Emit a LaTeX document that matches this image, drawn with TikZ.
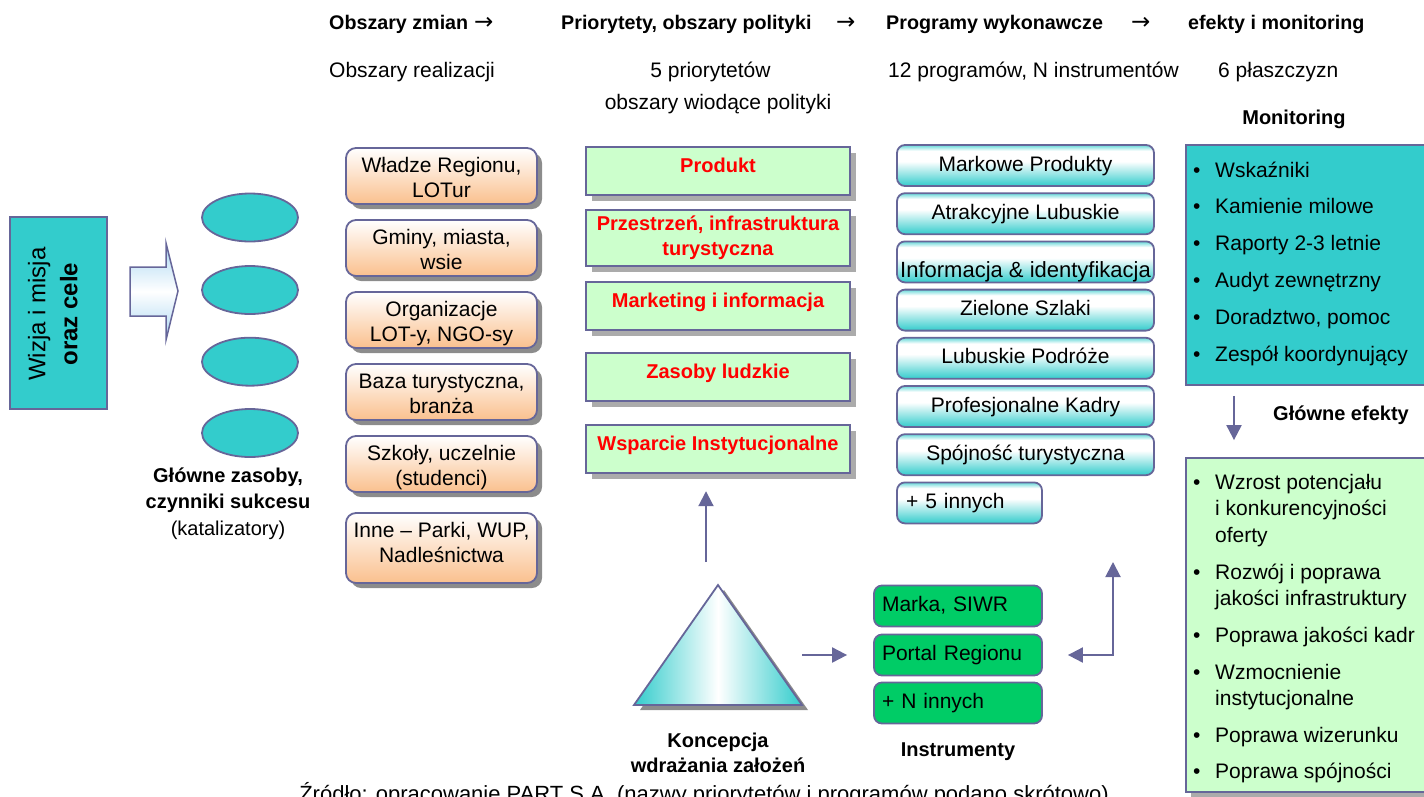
\documentclass[tikz,border=0pt]{standalone}
\usepackage{fontspec}
\setmainfont{Liberation Sans}
\newfontfamily\symfont{DejaVu Sans}
\usetikzlibrary{shapes.geometric,shadows,arrows.meta}

\definecolor{edge}{HTML}{666699}
\definecolor{tealc}{HTML}{33CCCC}
\definecolor{mint}{HTML}{CCFFCC}
\definecolor{peach}{HTML}{FAC08E}
\definecolor{instr}{HTML}{00CC66}
\definecolor{skyb}{HTML}{A9D6F2}
\definecolor{shadowgray}{HTML}{8C8C8C}
\definecolor{hatchgray}{HTML}{ABABAB}
\colorlet{tealsoft}{tealc!75!white}

% programme boxes: teal rim at the top, white band, teal towards the bottom
\pgfdeclareverticalshading{progshade}{100bp}{color(0bp)=(tealc); color(25bp)=(tealc); color(55bp)=(white); color(68bp)=(white); color(75bp)=(tealsoft); color(100bp)=(tealsoft)}

\newcommand\itm[1]{\makebox[22pt][l]{\textbullet}#1}
\newcommand\ind{\hspace*{22pt}}

\tikzset{
  edgeline/.style={draw=edge, line width=1.8pt},
  reg/.style={font=\fontsize{21}{25}\selectfont},
  bld/.style={font=\fontsize{19.7}{25}\selectfont\bfseries},
  txt/.style={inner sep=0pt, align=center, execute at begin node=\strut, execute at end node=\strut},
  hdr/.style={bld, inner sep=0pt, anchor=base west},
  sub/.style={reg, inner sep=0pt, anchor=base west},
  arr/.style={font=\fontsize{23}{25}\selectfont\symfont, inner sep=0pt, anchor=base west},
  obox/.style={edgeline, rounded corners=10pt, top color=white, bottom color=peach, minimum width=191pt, inner sep=0pt,
    drop shadow={shadow xshift=5pt, shadow yshift=-5pt, fill=shadowgray, opacity=1}},
  otxt/.style={reg, txt, anchor=north},
  pbox/.style={draw=edge, line width=2.4pt, fill=mint, minimum width=264pt, minimum height=48pt, inner sep=0pt,
    drop shadow={shadow xshift=6pt, shadow yshift=-6pt, fill=hatchgray, opacity=1}},
  ptxt/.style={font=\fontsize{20}{25}\selectfont\bfseries, text=red, txt, anchor=north},
  prog/.style={edgeline, rounded corners=8pt, shade, shading=progshade, minimum width=257pt, minimum height=41pt,
    inner sep=0pt, reg, text height=15pt, text depth=4pt},
  ibox/.style={edgeline, rounded corners=8pt, fill=instr, minimum height=41pt, text width=152pt, align=left,
    inner xsep=8pt, inner ysep=0pt, reg, text height=15pt, text depth=4pt},
  ell/.style={ellipse, edgeline, fill=tealc, minimum width=96pt, minimum height=48pt, inner sep=0pt},
  listtxt/.style={font=\fontsize{21}{26.5}\selectfont, inner sep=0pt, align=left, anchor=north west,
    execute at begin node=\strut},
  conn/.style={draw=edge, line width=2pt, -{Triangle[length=15pt,width=15pt]}},
  connboth/.style={draw=edge, line width=2pt, {Triangle[length=15pt,width=15pt]}-{Triangle[length=15pt,width=15pt]}},
}

\begin{document}
\begin{tikzpicture}[x=1pt,y=-1pt]
\useasboundingbox (0,0) rectangle (1424,796);

% ---- column headings
\node[hdr] (h1) at (329,29) {Obszary zmian};
\node[arr] (a1) at (474,29) {→};
\node[hdr] (h2) at (561,29) {Priorytety, obszary polityki};
\node[arr] (a2) at (836,29) {→};
\node[hdr] (h3) at (886,29) {Programy wykonawcze};
\node[arr] (a3) at (1131,29) {→};
\node[hdr] (h4) at (1188,29) {efekty i monitoring};

\node[sub] (s1h) at (329,77) {Obszary realizacji};
\node[reg, inner sep=0pt, anchor=base] (s2h) at (710.5,77) {5 priorytetów};
\node[reg, inner sep=0pt, anchor=base] (s2h2) at (718,109) {obszary wiodące polityki};
\node[sub] (s3h) at (888,77) {12 programów, N instrumentów};
\node[sub] (s4h) at (1218,77) {6 płaszczyzn};

% ---- vision and mission
\node[edgeline, fill=tealc, minimum width=96.7pt, minimum height=192.6pt, inner sep=0pt] (wiz) at (58.3,313) {};
\node[rotate=90, align=center, inner sep=0pt, font=\fontsize{24}{32}\selectfont,
      execute at begin node=\strut, execute at end node=\strut] (wizt) at (57.6,314)
      {Wizja i misja\\\textbf{oraz cele}};

% ---- block arrow
\path[draw=edge, line width=1.5pt, top color=skyb, bottom color=skyb, middle color=white]
  (130,267) -- (166,267) -- (166,243) -- (178,291) -- (166,340) -- (166,316) -- (130,316) -- cycle;

% ---- catalysts
\node[ell] (e1) at (250,217.5) {};
\node[ell] (e2) at (250,290) {};
\node[ell] (e3) at (250,361.7) {};
\node[ell] (e4) at (250,433) {};
\node[txt, font=\fontsize{20}{26.5}\selectfont, anchor=north] (cat) at (228,467.5)
  {\textbf{Główne zasoby,}\\\textbf{czynniki sukcesu}\\(katalizatory)};

% ---- areas of realisation
\node[obox, minimum height=56pt] (o1) at (441.5,176) {};
\node[obox, minimum height=56pt] (o2) at (441.5,248) {};
\node[obox, minimum height=56pt] (o3) at (441.5,320) {};
\node[obox, minimum height=56pt] (o4) at (441.5,392) {};
\node[obox, minimum height=56pt] (o5) at (441.5,464) {};
\node[obox, minimum height=70pt] (o6) at (441.5,548) {};
\node[otxt] (o1t) at (441.5,157.5) {Władze Regionu,\\LOTur};
\node[otxt] (o2t) at (441.5,229.5) {Gminy, miasta,\\wsie};
\node[otxt] (o3t) at (441.5,301.5) {Organizacje\\LOT-y, NGO-sy};
\node[otxt] (o4t) at (441.5,373.5) {Baza turystyczna,\\branża};
\node[otxt] (o5t) at (441.5,445.5) {Szkoły, uczelnie\\(studenci)};
\node[otxt] (o6t) at (441.5,522.5) {Inne – Parki, WUP,\\Nadleśnictwa};

% ---- priorities
\node[pbox] (p1) at (718,171) {};
\node[pbox, minimum height=56pt] (p2) at (718,238) {};
\node[pbox] (p3) at (718,306) {};
\node[pbox] (p4) at (718,377) {};
\node[pbox] (p5) at (718,449) {};
\node[ptxt] (p1t) at (718,155) {Produkt};
\node[ptxt] (p2t) at (718,215.5) {Przestrzeń, infrastruktura\\turystyczna};
\node[ptxt] (p3t) at (718,290) {Marketing i informacja};
\node[ptxt] (p4t) at (718,361) {Zasoby ludzkie};
\node[ptxt] (p5t) at (718,433) {Wsparcie Instytucjonalne};

% ---- programmes
\node[prog] (g1) at (1025.5,165.5) {Markowe Produkty};
\node[prog] (g2) at (1025.5,213.7) {Atrakcyjne Lubuskie};
\node[prog] (g3) at (1025.5,261.9) {};
\begin{scope}
  \clip ([shift={(1pt,1pt)}]g3.south west) rectangle ([shift={(-1pt,-1pt)}]g3.north east);
  \node[font=\fontsize{22}{26}\selectfont, inner sep=0pt, anchor=base] (g3t) at (1025.5,277) {Informacja \& identyfikacja};
\end{scope}
\node[prog] (g4) at (1025.5,310.1) {Zielone Szlaki};
\node[prog] (g5) at (1025.5,358.3) {Lubuskie Podróże};
\node[prog] (g6) at (1025.5,406.5) {Profesjonalne Kadry};
\node[prog] (g7) at (1025.5,454.7) {Spójność turystyczna};
\node[prog, minimum width=145pt, text width=127pt, align=left, inner xsep=9pt] (g8) at (969.5,502.9) {+ 5 innych};

% ---- implementation concept
\fill[shadowgray] (724,590) -- (808,710) -- (640,710) -- cycle;
\path[draw=edge, line width=1.8pt, left color=tealc, right color=tealc, middle color=white]
  (718,585) coordinate (apex) -- (802,705) coordinate (tribr) -- (634,705) coordinate (tribl) -- cycle;
\node[txt, font=\fontsize{20}{25}\selectfont\bfseries, anchor=north] (kon) at (718,732.5) {Koncepcja\\wdrażania założeń};

% ---- instruments
\node[ibox] (i1) at (958,606) {Marka, SIWR};
\node[ibox] (i2) at (958,655) {Portal Regionu};
\node[ibox] (i3) at (958,703) {+ N innych};
\node[font=\fontsize{20}{25}\selectfont\bfseries, inner sep=0pt, anchor=base] (ins) at (958,756) {Instrumenty};

% ---- monitoring and effects
\node[font=\fontsize{20}{25}\selectfont\bfseries, inner sep=0pt, anchor=base] (monh) at (1294,124) {Monitoring};
\node[edgeline, fill=tealc, minimum width=246pt, minimum height=240pt, inner sep=0pt] (mon) at (1309,265) {};
\node[listtxt] (mont) at (1193,161.5)
  {\itm{Wskaźniki}\\[10.3pt]\itm{Kamienie milowe}\\[10.3pt]\itm{Raporty 2-3 letnie}\\[10.3pt]%
   \itm{Audyt zewnętrzny}\\[10.3pt]\itm{Doradztwo, pomoc}\\[10.3pt]\itm{Zespół koordynujący}};
\node[font=\fontsize{20}{25}\selectfont\bfseries, inner sep=0pt, anchor=base west] (effh) at (1273,420) {Główne efekty};
\node[edgeline, fill=mint, minimum width=246pt, minimum height=334pt, inner sep=0pt,
      drop shadow={shadow xshift=5pt, shadow yshift=-5pt, fill=hatchgray, opacity=1}] (eff) at (1309,625) {};
\node[listtxt] (efft) at (1193,474)
  {\itm{Wzrost potencjału}\\\ind i konkurencyjności\\\ind oferty\\[10.2pt]%
   \itm{Rozwój i poprawa}\\\ind jakości infrastruktury\\[10.2pt]%
   \itm{Poprawa jakości kadr}\\[10.2pt]%
   \itm{Wzmocnienie}\\\ind instytucjonalne\\[10.2pt]%
   \itm{Poprawa wizerunku}\\[10.2pt]%
   \itm{Poprawa spójności}};

% ---- connectors
\coordinate (upfoot) at (706,562);
\coordinate (tailr) at (802,655);
\coordinate (progfoot) at (1113,562);
\coordinate (mx) at (1234,0);
\draw[conn, shorten >=17pt] (upfoot) -- (upfoot |- p5.south);
\draw[conn, shorten >=26pt] (tailr) -- (i2.west);
\draw[connboth, shorten >=25pt] (progfoot) |- (i2.east);
\draw[conn, shorten <=10pt, shorten >=17pt] (mon.south -| mx) -- (eff.north -| mx);

% ---- source line
\node[font=\fontsize{22}{26}\selectfont, inner sep=0pt, anchor=base] (src) at (704,801)
  {Źródło: opracowanie PART S.A. (nazwy priorytetów i programów podano skrótowo)};
\end{tikzpicture}
\end{document}
